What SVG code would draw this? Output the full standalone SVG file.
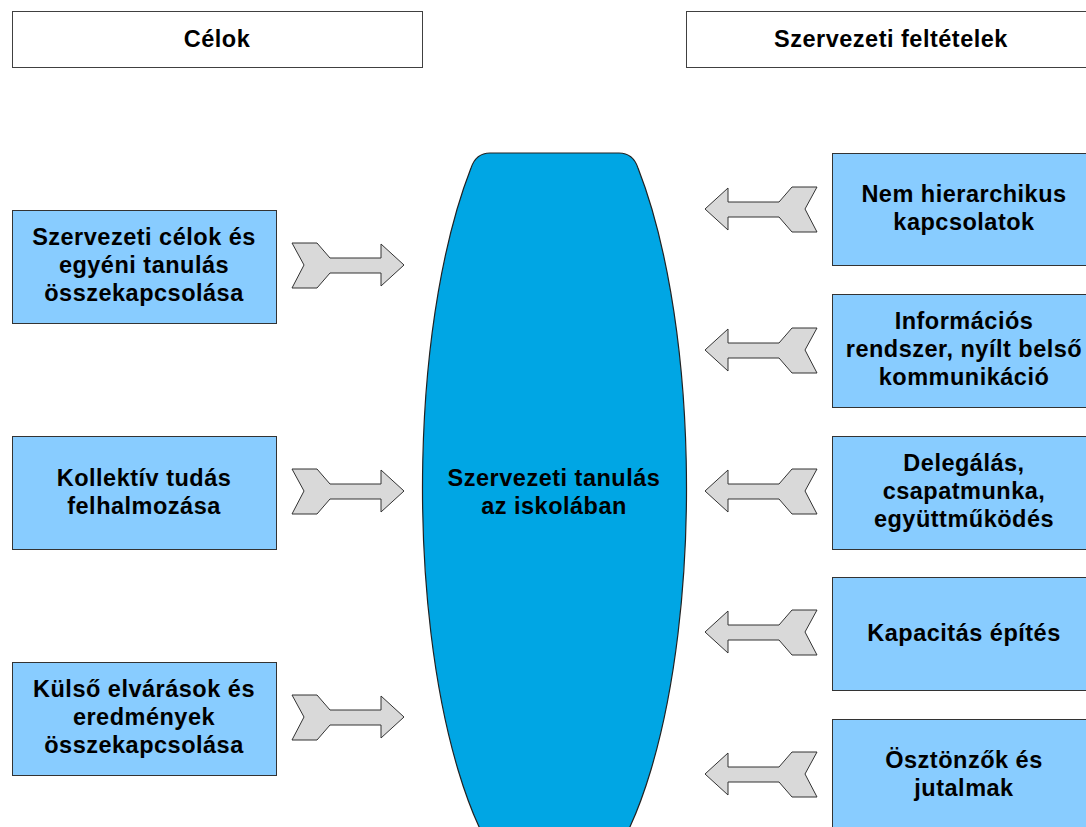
<svg xmlns="http://www.w3.org/2000/svg" xmlns:xlink="http://www.w3.org/1999/xlink" width="1086" height="827" viewBox="0 0 1086 827">
<style>
.hdr{fill:#ffffff;stroke:#404040;stroke-width:1}
.box{fill:#88CCFF;stroke:#333333;stroke-width:1}
.arr{fill:#D9D9D9;stroke:#333333;stroke-width:1;stroke-linejoin:miter}
.core{fill:#00A6E4;stroke:#222222;stroke-width:1.2}
text{font-family:"Liberation Sans",Arial,sans-serif;font-weight:bold;font-size:23.5px;letter-spacing:0.5px;fill:#000000;text-anchor:middle}
</style>
<defs>
<path id="arrow" d="M0,-22 L25,-22 L38,-7 L89,-7 L89,-21 L112,0 L89,21 L89,8 L38,8 L25,23 L0,23 L12,0 Z"/>
</defs>
<rect width="1086" height="827" fill="#ffffff"/>

<g id="hdr-celok"><rect class="hdr" x="12.5" y="11.5" width="410" height="56"/><text x="217" y="47">Célok</text></g>
<g id="hdr-felt"><rect class="hdr" x="686.5" y="11.5" width="410" height="56"/><text x="891" y="47">Szervezeti feltételek</text></g>

<g id="core">
<path class="core" d="M471,168 Q476,153 490,153 L619,153 Q633,153 638,168 A132,413 0 1 1 471,168 Z"/>
<text x="554" y="486">Szervezeti tanulás</text>
<text x="554" y="514">az iskolában</text>
</g>

<g id="left1"><rect class="box" x="12.5" y="210.5" width="264" height="113"/>
<text x="144" y="245">Szervezeti célok és</text><text x="144" y="273">egyéni tanulás</text><text x="144" y="301">összekapcsolása</text></g>
<g id="left2"><rect class="box" x="12.5" y="436.5" width="264" height="113"/>
<text x="144" y="486">Kollektív tudás</text><text x="144" y="514">felhalmozása</text></g>
<g id="left3"><rect class="box" x="12.5" y="662.5" width="264" height="113"/>
<text x="144" y="697">Külső elvárások és</text><text x="144" y="725">eredmények</text><text x="144" y="753">összekapcsolása</text></g>

<g id="right1"><rect class="box" x="832.5" y="153.5" width="264" height="112"/>
<text x="964" y="202">Nem hierarchikus</text><text x="964" y="230">kapcsolatok</text></g>
<g id="right2"><rect class="box" x="832.5" y="294.5" width="264" height="113"/>
<text x="964" y="329">Információs</text><text x="964" y="357">rendszer, nyílt belső</text><text x="964" y="385">kommunikáció</text></g>
<g id="right3"><rect class="box" x="832.5" y="436.5" width="264" height="113"/>
<text x="964" y="471">Delegálás,</text><text x="964" y="499">csapatmunka,</text><text x="964" y="527">együttműködés</text></g>
<g id="right4"><rect class="box" x="832.5" y="577.5" width="264" height="113"/>
<text x="964" y="641">Kapacitás építés</text></g>
<g id="right5"><rect class="box" x="832.5" y="719.5" width="264" height="113"/>
<text x="964" y="768">Ösztönzők és</text><text x="964" y="796">jutalmak</text></g>

<g id="connectors">
<use href="#arrow" class="arr" transform="translate(292,265)"/>
<use href="#arrow" class="arr" transform="translate(292,491)"/>
<use href="#arrow" class="arr" transform="translate(292,717)"/>
<use href="#arrow" class="arr" transform="translate(817,209) scale(-1,1)"/>
<use href="#arrow" class="arr" transform="translate(817,350) scale(-1,1)"/>
<use href="#arrow" class="arr" transform="translate(817,491) scale(-1,1)"/>
<use href="#arrow" class="arr" transform="translate(817,632) scale(-1,1)"/>
<use href="#arrow" class="arr" transform="translate(817,774) scale(-1,1)"/>
</g>
</svg>
